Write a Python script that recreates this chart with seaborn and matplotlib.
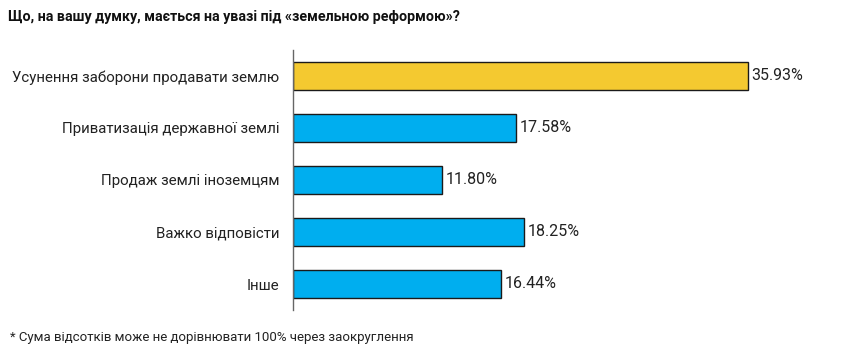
import matplotlib
matplotlib.use("Agg")
import matplotlib.pyplot as plt
import seaborn as sns
import pandas as pd

categories = [
    "Усунення заборони продавати землю",
    "Приватизація державної землі",
    "Продаж землі іноземцям",
    "Важко відповісти",
    "Інше",
]
values = [35.93, 17.58, 11.80, 18.25, 16.44]
colors = ["#F4C930", "#00AEEF", "#00AEEF", "#00AEEF", "#00AEEF"]
title = "Що, на вашу думку, мається на увазі під «земельною реформою»?"
footnote = "* Сума відсотків може не дорівнювати 100% через заокруглення"

sns.set_theme(style="white")
plt.rcParams["font.family"] = ["Roboto", "DejaVu Sans"]

df = pd.DataFrame({"cat": categories, "val": values})

fig = plt.figure(figsize=(8.52, 3.5), dpi=100)
ax = fig.add_axes([293 / 852, 1 - 310 / 350, 510 / 852, 260 / 350])

sns.barplot(data=df, x="val", y="cat", hue="cat", palette=colors, legend=False,
            orient="h", width=0.55, edgecolor="#1a1a1a", linewidth=1.0, ax=ax,
            saturation=1)

ax.set_xlim(0, 510 / 12.66)
ax.set_ylim(4.5, -0.5)
ax.set_xlabel("")
ax.set_ylabel("")
ax.set_xticks([])
for s in ["top", "right", "bottom"]:
    ax.spines[s].set_visible(False)
ax.spines["left"].set_color("#666666")
ax.spines["left"].set_linewidth(1.0)
ax.tick_params(axis="y", length=0, pad=10, labelsize=10.8, labelcolor="#222222")

for i, v in enumerate(values):
    ax.text(v + 0.3, i, f"{v:.2f}%", va="center", ha="left", fontsize=11.5,
            color="#222222")

fig.text(8 / 852, 1 - 17 / 350, title, fontsize=10.3, fontweight="bold",
         color="#111111", va="center", ha="left")
fig.text(10 / 852, 1 - 337 / 350, footnote, fontsize=9.5, color="#222222",
         va="center", ha="left")

fig.savefig("out.png", dpi=100)
